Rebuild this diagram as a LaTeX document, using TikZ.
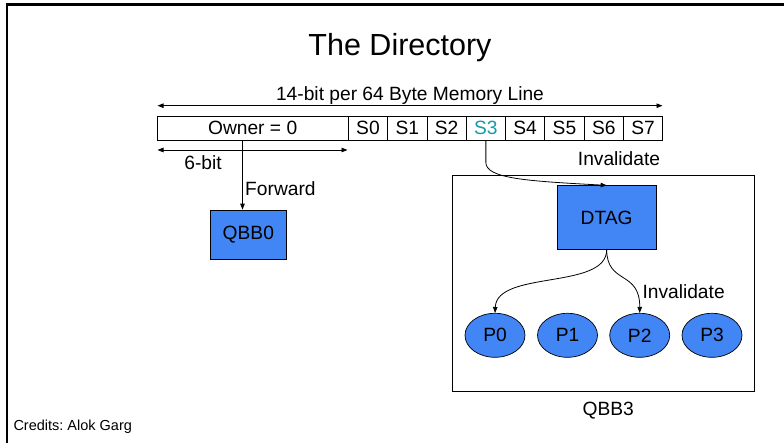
\documentclass[tikz,border=0pt]{standalone}
\usepackage{fontspec}
\setmainfont{Liberation Sans}
\frenchspacing
\usetikzlibrary{arrows.meta,shapes.geometric}
\definecolor{boxblue}{RGB}{66,133,244}
\definecolor{slotteal}{RGB}{20,155,172}
\begin{document}
\begin{tikzpicture}[x=1pt,y=-1pt,
  body/.style={font=\fontsize{19.2}{22}\selectfont},
  lbl/.style={body, inner sep=0pt},
  cell/.style={body, draw, line width=0.7pt, minimum height=24pt, inner sep=0pt},
  bluebox/.style={body, draw, line width=0.7pt, fill=boxblue, inner sep=0pt},
  proc/.style={body, ellipse, draw, line width=0.7pt, fill=boxblue,
    minimum width=60pt, minimum height=44pt, inner sep=0pt},
  conn/.style={line width=0.8pt, -{Triangle[length=6pt,width=4.5pt]}},
  span/.style={line width=0.8pt, {Triangle[length=6pt,width=4.5pt]}-{Triangle[length=6pt,width=4.5pt]}}
]
\useasboundingbox (0,0) rectangle (784,443);

% slide frame
\draw[line width=2.5pt] (784,4.5) -- (7.2,4.5) -- (7.2,443);

% title
\node[font=\fontsize{30.5}{34}\selectfont, anchor=base, inner sep=0pt] (title) at (400,56) {The Directory};

% directory entry: owner field and eight sharer bits
\node[cell, minimum width=191.3pt] (owner) at (252.65,128) {Owner = 0};
\foreach \k in {0,1,2,4,5,6,7}
  \node[cell, minimum width=39.3pt] (s\k) at ({367.95+39.3*\k},128) {S\k};
\node[cell, minimum width=39.3pt, text=slotteal] (s3) at ({367.95+39.3*3},128) {S3};

% width annotations
\coordinate (topL) at (157.5,105.7);
\coordinate (topR) at (662.5,105.7);
\draw[span] (topL) -- (topR);
\node[lbl, anchor=base] (linelbl) at (410,100.7) {14-bit per 64 Byte Memory Line};

\coordinate (ownL) at (157.5,150);
\coordinate (ownR) at (347.5,150);
\draw[span] (ownL) -- (ownR);
\node[lbl, anchor=base] (ownlbl) at (203,169.3) {6-bit};

% owner node
\node[bluebox, minimum width=76.7pt, minimum height=49.3pt] (qbb0) at (248.35,234.65) {QBB0};
\coordinate (fwd) at (242.5,0);
\draw[conn] (owner.south -| fwd) -- (qbb0.north -| fwd);
\node[lbl, anchor=base west] (fwdlbl) at (245,195.3) {Forward};

% sharer node QBB3
\node[draw, line width=0.7pt, minimum width=301.8pt, minimum height=216.4pt, inner sep=0pt] (qbb3) at (603.4,283.5) {};
\node[lbl, anchor=base] (qbb3lbl) at (608.3,415) {QBB3};

\node[bluebox, minimum width=98.7pt, minimum height=63.6pt] (dtag) at (606.65,217.5) {DTAG};

\node[proc] (p0) at (495,335.3) {P0};
\node[proc] (p1) at (567.5,335.3) {P1};
\node[proc] (p2) at (639.7,335.3) {P2};
\node[proc] (p3) at (712,335.3) {P3};

% invalidations
\draw[conn] (s3.south) -- ++(0,22) .. controls +(0,16) and (525,181) .. (dtag.north);
\node[lbl, anchor=base] (inv1) at (619,165.7) {Invalidate};

\draw[conn] (dtag.south) .. controls (607,290) and (497,270) .. (p0.north);
\draw[conn] (dtag.south) .. controls (607,285) and (640,270) .. (p2.north);
\node[lbl, anchor=base west] (inv2) at (642.3,298.3) {Invalidate};

% credits
\node[font=\fontsize{14.5}{17}\selectfont, anchor=base west, inner sep=0pt] (credits) at (13.3,430.7) {Credits: Alok Garg};
\end{tikzpicture}
\end{document}
